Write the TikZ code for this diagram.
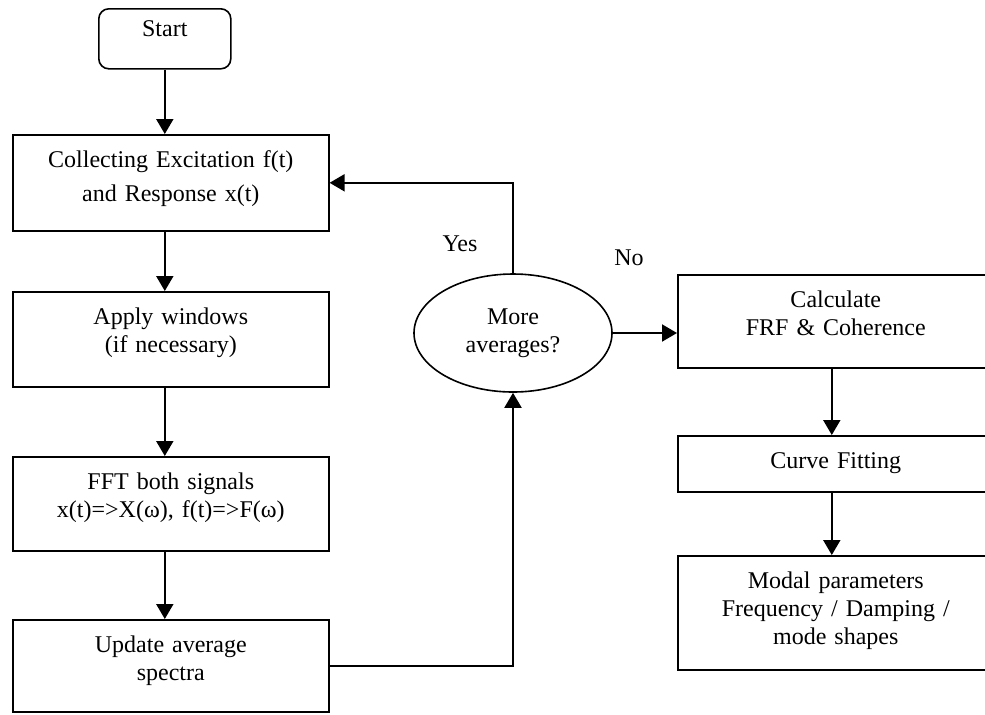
\documentclass[tikz,border=0pt]{standalone}
\usepackage{fontspec}
\setmainfont{Liberation Serif}
\usetikzlibrary{shapes.geometric, arrows.meta, positioning}

\begin{document}
\begin{tikzpicture}[x=0.5pt, y=-0.5pt, >={Triangle[length=7.5pt, width=8.5pt]},
  every node/.style={font=\fontsize{12pt}{14pt}\selectfont},
  boxnode/.style={draw, line width=0.8pt, anchor=north west, align=center,
    text width=158pt, inner xsep=0pt, inner ysep=0pt, text height=16.5pt, text depth=#1},
  flow/.style={->, line width=1pt}]
  \clip (0,0) rectangle (985,714);
  \node[draw, line width=0.8pt, rounded corners=5pt, anchor=north west, align=center,
    minimum width=66pt, inner sep=0pt, text height=14pt, text depth=16pt] (start) at (98,8) {Start};
  \node[boxnode=31.5pt] (collect) at (12,134) {Collecting Excitation f(t)\\[3pt]and Response x(t)};
  \node[boxnode=31pt] (window) at (12,291) {Apply windows\\(if necessary)};
  \node[boxnode=30.5pt] (fft) at (12,456) {FFT both signals\\x(t)=>X(ω), f(t)=>F(ω)};
  \node[boxnode=29.5pt] (update) at (12,619) {Update average\\spectra};
  \node[draw, ellipse, line width=0.8pt, minimum width=99pt, minimum height=59pt,
    inner sep=0pt, align=center] (averages) at (513,333) {More\\averages?};
  \node[boxnode=30pt] (frf) at (677,274) {Calculate\\FRF \& Coherence};
  \node[boxnode=11.5pt] (fit) at (677,435) {Curve Fitting};
  \node[boxnode=40.5pt] (modal) at (677,555) {Modal parameters\\Frequency / Damping /\\mode shapes};

  \draw[flow] (start) -- (start |- collect.north);
  \draw[flow] (collect.south -| start) -- (window.north -| start);
  \draw[flow] (window.south -| start) -- (fft.north -| start);
  \draw[flow] (fft.south -| start) -- (update.north -| start);
  \draw[flow] (update.east) -| (averages.south);
  \draw[flow] (averages.north) |- (collect.east);
  \draw[flow] (averages.east) -- (averages.east -| frf.west);
  \draw[flow] ([xshift=-2pt]frf.south) -- ([xshift=-2pt]fit.north);
  \draw[flow] ([xshift=-2pt]fit.south) -- ([xshift=-2pt]modal.north);

  \node (yes) at (460,244) {Yes};
  \node (no) at (629,258) {No};
\end{tikzpicture}
\end{document}
